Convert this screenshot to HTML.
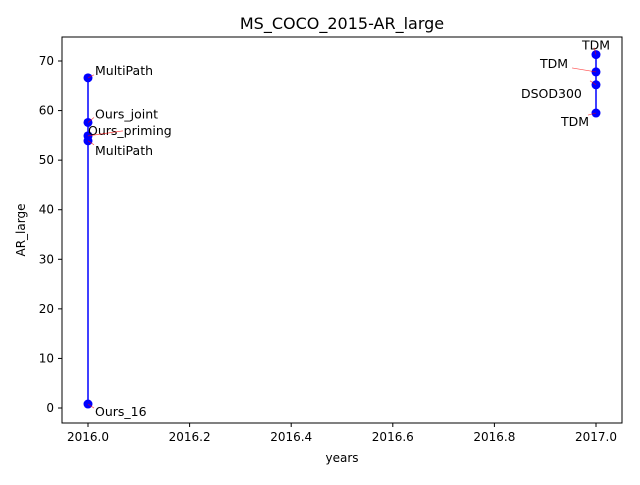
<!DOCTYPE html>
<html><head><meta charset="utf-8"><style>
body{margin:0;background:#fff;font-family:"Liberation Sans","DejaVu Sans",sans-serif}
svg text{font-family:"DejaVu Sans","Liberation Sans",sans-serif}
</style></head><body>
<svg id="c" width="640" height="480" viewBox="0 0 640 480">
<rect width="640" height="480" fill="#fff"/>
<text x="342" y="29" text-anchor="middle" font-size="16">MS_COCO_2015-AR_large</text>
<g id="plot"></g>
<rect x="62" y="37" width="560" height="386" fill="none" stroke="#000" stroke-width="1"/>
<text x="342" y="462" text-anchor="middle" font-size="12">years</text>
<text transform="translate(25,230) rotate(-90)" text-anchor="middle" font-size="12">AR_large</text>
</svg>
<script>
const years=[2016,2016,2016,2016,2016,2017,2017,2017,2017];
const values=[66.6,57.6,54.9,53.9,0.8,71.3,67.8,65.2,59.5];
const labels=["MultiPath","Ours_joint","Ours_priming","MultiPath","Ours_16","TDM","TDM","DSOD300","TDM"];
const xTicks=[2016.0,2016.2,2016.4,2016.6,2016.8,2017.0];
const yTicks=[0,10,20,30,40,50,60,70];
const labelOffsets=[[7,-3],[7,-4],[0,-1],[7,14],[7,12],[-14,-5],[-56,-4],[-75,13],[-35,13]];
const arrowFrom=[[6,-3],[6,-5],[35,-5],[6,4],[6,4],[-2,-7],[-24,-4],[-6,-4],[-8,2]];
const X=v=>88+(v-2016)*508, Y=v=>408-v*4.957;
const NS="http://www.w3.org/2000/svg", g=document.getElementById('plot');
function mk(t,a){const e=document.createElementNS(NS,t);for(const k in a)e.setAttribute(k,a[k]);g.appendChild(e);return e;}
xTicks.forEach(t=>{
 const l=mk('line',{x1:X(t),x2:X(t),y1:423,y2:427,stroke:'#000'});
 
 
 const tx=mk('text',{x:X(t),y:441,'text-anchor':'middle','font-size':12});tx.textContent=t.toFixed(1);
 
 
});
yTicks.forEach(t=>{
 const l=mk('line',{x1:58,x2:62,y1:Y(t),y2:Y(t),stroke:'#000'});
 
 
 const tx=mk('text',{x:54,y:Y(t)+4,'text-anchor':'end','font-size':12});tx.textContent=t;
 
 
});
[...new Set(years)].forEach(yr=>{
 const pts=years.map((y,i)=>y===yr?X(y)+','+Y(values[i]):null).filter(p=>p).join(' ');
 const pl=mk('polyline',{points:pts,fill:'none',stroke:'#0000ff','stroke-width':1.5});
 
 
});
years.forEach((yr,i)=>{
 const cx=X(yr),cy=Y(values[i]);
 const c=mk('circle',{cx:cx,cy:cy,r:4.5,fill:'#0000ff'});
 
 
 const o=labelOffsets[i];
 const tx=mk('text',{x:cx+o[0],y:cy+o[1],'font-size':12.5});tx.textContent=labels[i];
 
 
 const a=arrowFrom[i];
 const ar=mk('line',{x1:cx+a[0],y1:cy+a[1],x2:cx,y2:cy,stroke:'#ff0000','stroke-width':0.7,opacity:0.7});
 
 
});
</script>
</body></html>
